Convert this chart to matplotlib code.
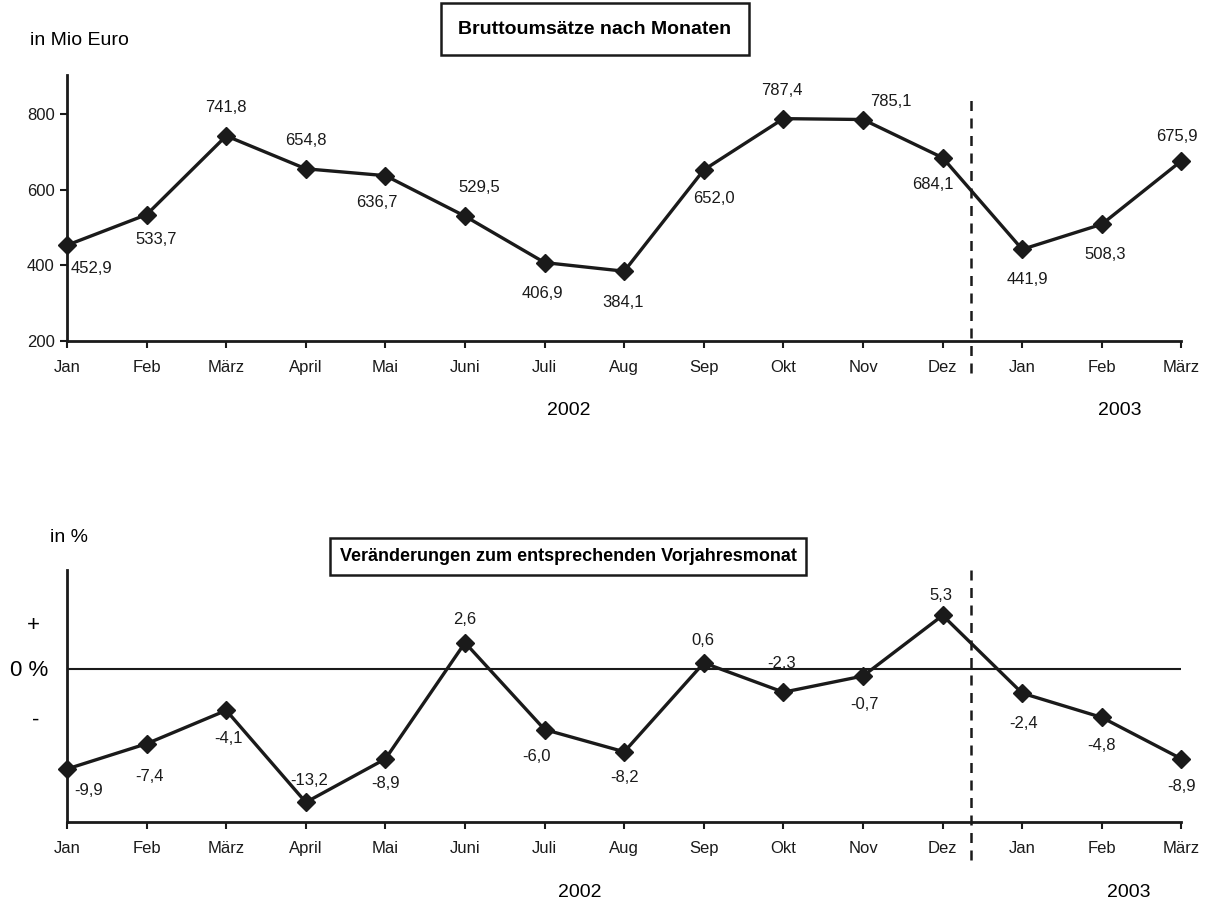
import matplotlib
matplotlib.use('Agg')
from matplotlib import pyplot as plt
from matplotlib import font_manager
import matplotlib.transforms as mtransforms

names = {f.name for f in font_manager.fontManager.ttflist}
if 'Liberation Sans Narrow' in names:
    plt.rcParams['font.family'] = ['Liberation Sans Narrow', 'DejaVu Sans']
else:
    plt.rcParams['font.family'] = ['Liberation Sans', 'DejaVu Sans']

monate = ['Jan', 'Feb', 'März', 'April', 'Mai', 'Juni', 'Juli', 'Aug', 'Sep',
          'Okt', 'Nov', 'Dez', 'Jan', 'Feb', 'März']
umsatz = [452.9, 533.7, 741.8, 654.8, 636.7, 529.5, 406.9, 384.1, 652.0,
          787.4, 785.1, 684.1, 441.9, 508.3, 675.9]
veraenderung = [-9.9, -7.4, -4.1, -13.2, -8.9, 2.6, -6.0, -8.2, 0.6,
                -2.3, -0.7, 5.3, -2.4, -4.8, -8.9]
umsatz_ticks = [200, 400, 600, 800]

# label offsets in pixels (dx, dy)
off_oben = [(24, -23), (10, -25), (0, 28), (0, 28), (-9, -27), (14, 29), (-2, -31),
            (-1, -31), (10, -29), (-2, 28), (28, 18), (-10, -27), (5, -30), (3, -30), (-5, 24)]
off_unten = [(22, -22), (3, -33), (2, -28), (3, 22), (0, -25), (0, 23), (-8, -27),
             (0, -26), (-1, 22), (-2, 29), (1, -28), (-2, 20), (1, -30), (0, -28), (0, -28)]

farbe = '#1a1a1a'


def fmt(v):
    return ('%.1f' % v).replace('.', ',')


def achse(ax):
    for s in ['top', 'right']:
        ax.spines[s].set_visible(False)
    for s in ['left', 'bottom']:
        ax.spines[s].set_linewidth(2)
        ax.spines[s].set_color(farbe)
    ax.set_xlim(0, len(monate) - 1)
    ax.set_xticks(range(len(monate)))
    ax.set_xticklabels(monate, fontsize=12)
    ax.tick_params(axis='x', direction='out', length=5, width=1.5, pad=9, colors=farbe)


def trennlinie(ax, y0, y1):
    trans = mtransforms.blended_transform_factory(ax.transData, ax.transAxes)
    ax.plot([11.35, 11.35], [y0, y1], transform=trans, color=farbe, lw=1.8,
            ls=(0, (4, 3)), clip_on=False)


fig = plt.figure(figsize=(12.1, 9.09), dpi=100)

# oben: Bruttoumsätze
ax1 = fig.add_axes([0.0554, 0.625, 0.921, 0.2926])
achse(ax1)
ax1.set_ylim(200, 903)
ax1.set_yticks(umsatz_ticks)
ax1.set_yticklabels([str(t) for t in umsatz_ticks], fontsize=12)
ax1.tick_params(axis='y', direction='out', length=5, width=1.5, pad=4, colors=farbe)
ax1.plot(range(len(umsatz)), umsatz, color=farbe, lw=2.4, marker='D', ms=9, clip_on=False)
for i, v in enumerate(umsatz):
    ax1.annotate(fmt(v), (i, v), xytext=off_oben[i], textcoords='offset pixels',
                 ha='center', va='center', fontsize=12, color=farbe)
trennlinie(ax1, -0.12, 0.92)
ax1.text(-0.033, 1.13, 'in Mio Euro', transform=ax1.transAxes, fontsize=14, ha='left', va='center')
ax1.text(0.45, -0.26, '2002', transform=ax1.transAxes, fontsize=14, ha='center', va='center')
ax1.text(0.945, -0.26, '2003', transform=ax1.transAxes, fontsize=14, ha='center', va='center')
fig.text(0.4917, 0.968, 'Bruttoumsätze nach Monaten', fontsize=14, fontweight='bold',
         ha='center', va='center',
         bbox=dict(boxstyle='square,pad=0.9', fc='white', ec=farbe, lw=1.8))

# unten: Veränderungen
ax2 = fig.add_axes([0.0554, 0.0957, 0.921, 0.2773])
achse(ax2)
ax2.set_ylim(-15.15, 9.8)
ax2.set_yticks([])
ax2.axhline(0, color=farbe, lw=1.5)
ax2.plot(range(len(veraenderung)), veraenderung, color=farbe, lw=2.4, marker='D', ms=9,
         clip_on=False)
for i, v in enumerate(veraenderung):
    ax2.annotate(fmt(v), (i, v), xytext=off_unten[i], textcoords='offset pixels',
                 ha='center', va='center', fontsize=12, color=farbe)
trennlinie(ax2, -0.15, 1.02)
ax2.text(-0.015, 1.13, 'in %', transform=ax2.transAxes, fontsize=14, ha='left', va='center')
ax2.text(-0.03, 0.78, '+', transform=ax2.transAxes, fontsize=16, ha='center', va='center')
ax2.text(-0.034, 0.6, '0 %', transform=ax2.transAxes, fontsize=16, ha='center', va='center')
ax2.text(-0.028, 0.405, '-', transform=ax2.transAxes, fontsize=16, ha='center', va='center')
ax2.text(0.46, -0.28, '2002', transform=ax2.transAxes, fontsize=14, ha='center', va='center')
ax2.text(0.953, -0.28, '2003', transform=ax2.transAxes, fontsize=14, ha='center', va='center')
fig.text(0.4694, 0.3875, 'Veränderungen zum entsprechenden Vorjahresmonat', fontsize=13,
         fontweight='bold', ha='center', va='center',
         bbox=dict(boxstyle='square,pad=0.55', fc='white', ec=farbe, lw=1.8))

fig.savefig('out.png', dpi=100)
